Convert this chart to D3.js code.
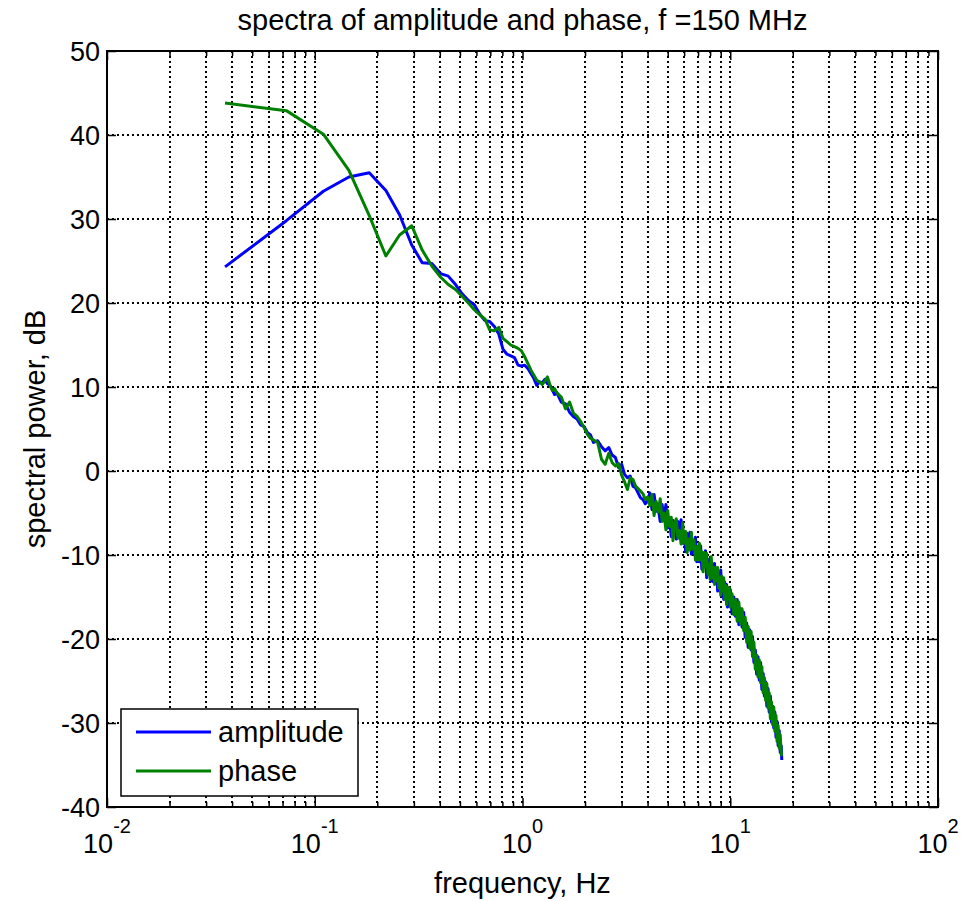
<!DOCTYPE html>
<html><head><meta charset="utf-8">
<script src="https://cdn.jsdelivr.net/npm/d3@7/dist/d3.min.js"></script>
<style>
body{margin:0;background:#fff;}
text{font-family:"Liberation Sans",Arial,Helvetica,sans-serif;fill:#000;}
</style>
</head><body>
<svg id="chart" width="963" height="901"></svg>
<script>
// ---------------- data ----------------
const titleText = "spectra of amplitude and phase, f =150 MHz";
const xLabel = "frequency, Hz";
const yLabel = "spectral power, dB";
const seriesNames = ["amplitude", "phase"];
const seriesColors = ["#0000ff", "#008000"];

const freq = [
  0.037,0.073,0.110,0.146,0.183,0.220,0.256,0.293,0.329,0.366,
  0.403,0.439,0.476,0.512,0.549,0.586,0.622,0.659,0.695,0.732,
  0.769,0.805,0.842,0.878,0.915,0.952,0.988,1.025,1.061,1.098,
  1.135,1.171,1.208,1.244,1.281,1.318,1.354,1.391,1.427,1.464,
  1.537,1.610,1.684,1.757,1.830,1.903,1.976,2.050,2.123,2.196,
  2.3,2.4,2.5,2.6,2.7,2.8,2.9,3.0,3.1,3.2,3.3,3.4,3.5,3.6,3.7,3.8,3.9,4.0,
  4.1,4.2,4.3,4.4,4.5,4.6,4.7,4.8,4.9,5.0,
  5.1,5.2,5.3,5.4,5.5,5.6,5.7,5.8,5.9,6.0,
  6.1,6.2,6.3,6.4,6.5,6.6,6.7,6.8,6.9,7.0,
  7.1,7.2,7.3,7.4,7.5,7.6,7.7,7.8,7.9,8.0,
  8.1,8.2,8.3,8.4,8.5,8.6,8.7,8.8,8.9,9.0,
  9.1,9.2,9.3,9.4,9.5,9.6,9.7,9.8,9.9,10.0,
  10.2,10.4,10.6,10.8,11.0,11.2,11.4,11.6,11.8,12.0,
  12.2,12.4,12.6,12.8,13.0,13.2,13.4,13.6,13.8,14.0,
  14.2,14.4,14.6,14.8,15.0,15.2,15.4,15.6,15.8,16.0,
  16.2,16.4,16.6,16.8,17.0,17.2,17.4,17.6,17.7
];

const amplitude = [
  24.3,29.8,33.3,35.0,35.5,33.4,30.5,26.9,24.8,24.7,
  23.5,23.2,22.2,21.1,20.3,19.8,18.7,17.9,17.8,17.2,
  16.3,14.5,13.9,13.7,13.5,12.6,12.5,12.6,12.2,11.6,
  11.0,10.2,10.6,10.5,10.9,10.4,10.2,9.7,9.1,9.3,
  8.2,8.0,7.0,6.5,6.2,5.5,5.3,4.6,4.3,3.4,
  3.6,2.9,2.4,2.8,1.9,1.6,0.4,0.8,-0.4,-0.8,-0.6,-1.8,-2.0,-2.6,-3.2,-3.4,-3.9,-3.6,
  -2.6,-4.6,-2.8,-4.8,-4.3,-6.0,-4.0,-5.7,-4.0,-6.8,
  -5.7,-7.8,-5.9,-6.7,-8.1,-6.0,-8.0,-5.8,-8.6,-7.4,
  -9.6,-7.4,-8.8,-7.3,-9.9,-8.6,-9.7,-7.9,-10.8,-9.0,
  -10.8,-8.9,-11.7,-9.9,-11.1,-9.5,-12.7,-10.5,-12.2,-10.5,
  -13.1,-11.6,-13.2,-11.0,-13.3,-12.0,-14.3,-12.1,-13.7,-11.8,
  -14.7,-13.3,-15.3,-13.2,-15.1,-13.5,-16.2,-14.3,-16.0,-14.1,
  -17.0,-15.0,-17.3,-15.3,-18.3,-16.4,-18.6,-16.8,-19.8,-18.1,
  -21.0,-18.9,-21.3,-19.7,-22.8,-21.3,-24.2,-22.1,-24.9,-22.8,
  -26.0,-24.1,-26.8,-25.1,-28.0,-25.9,-28.7,-26.8,-29.9,-28.0,
  -30.6,-28.7,-31.7,-29.8,-32.7,-30.9,-33.5,-32.7,-34.4
];

const phase = [
  43.8,42.9,40.1,35.8,30.4,25.6,28.1,29.2,26.3,24.4,
  23.1,22.2,21.6,20.8,20.0,19.2,18.6,18.1,16.8,16.7,
  17.1,15.8,15.4,15.0,14.8,14.6,14.3,13.6,12.8,12.0,
  11.4,10.8,10.6,10.3,10.7,11.2,10.3,9.6,9.8,9.3,
  8.8,7.4,8.2,6.9,6.5,5.9,5.2,4.4,3.9,3.7,
  3.4,1.4,0.8,2.1,1.0,0.6,0.9,-0.5,-1.3,-2.2,-0.8,-1.0,-1.8,-2.1,-2.4,-2.7,-3.4,-3.1,
  -4.1,-2.8,-5.3,-3.6,-4.9,-3.3,-6.0,-5.0,-7.0,-4.7,
  -6.6,-5.5,-8.3,-6.2,-5.7,-8.0,-7.1,-8.7,-6.2,-8.6,
  -7.2,-9.7,-8.1,-9.4,-7.3,-9.3,-8.2,-10.6,-9.0,-10.6,
  -8.6,-10.6,-9.6,-12.0,-9.7,-11.4,-9.8,-12.3,-11.1,-12.9,
  -10.2,-12.7,-11.5,-13.5,-11.5,-13.1,-11.5,-13.9,-12.7,-14.8,
  -12.5,-14.3,-12.7,-15.2,-13.6,-15.9,-13.8,-15.2,-13.9,-16.2,
  -14.6,-17.1,-15.3,-17.9,-15.6,-18.2,-16.4,-19.0,-17.4,-20.4,
  -18.5,-21.1,-19.1,-22.1,-20.4,-23.6,-21.9,-24.5,-22.5,-25.2,
  -23.3,-26.4,-24.6,-27.3,-25.3,-28.2,-26.4,-29.5,-27.5,-30.2,
  -28.1,-31.0,-29.1,-32.2,-30.3,-33.0,-31.4,-33.8,-33.5
];

const yTicks = [-40,-30,-20,-10,0,10,20,30,40,50];
const xDecades = [0.01,0.1,1,10,100];
const xTickExponents = ["-2","-1","0","1","2"];

// ---------------- layout ----------------
const L = 107, R = 938, T = 51, B = 807;
const FS_TICK = 27, FS_TEXT = 29;

const svg = d3.select("#chart");
const x = d3.scaleLog().domain([0.01,100]).range([L,R]);
const y = d3.scaleLinear().domain([-40,50]).range([B,T]);

// minor positions (2..9 within each decade)
const minorVals = [];
xDecades.slice(0,-1).forEach(d => { for (let m=2;m<=9;m++) minorVals.push(d*m); });
const allVLines = xDecades.concat(minorVals);

// grid
const grid = svg.append("g").attr("stroke","#000").attr("stroke-width",2)
  .attr("stroke-dasharray","2,3").attr("fill","none").attr("shape-rendering","crispEdges");
grid.selectAll("line.v").data(allVLines.filter(v => v>0.01 && v<100)).enter().append("line")
  .attr("x1",d=>Math.round(x(d))).attr("x2",d=>Math.round(x(d)))
  .attr("y1",T).attr("y2",B);
grid.selectAll("line.h").data(yTicks.filter(v=>v>-40 && v<50)).enter().append("line")
  .attr("x1",L).attr("x2",R)
  .attr("y1",d=>Math.round(y(d))).attr("y2",d=>Math.round(y(d)));

// axes ticks via d3 axes (inside ticks, no labels)
function noLbl(a){ return a.tickFormat(()=>""); }
function addAxis(axis, tx, ty){
  svg.append("g").attr("transform",`translate(${tx},${ty})`).call(noLbl(axis))
    .call(g=>g.select(".domain").remove());
}
addAxis(d3.axisBottom(x).tickValues(xDecades).tickSizeInner(-9).tickSizeOuter(0),0,B);
addAxis(d3.axisBottom(x).tickValues(minorVals).tickSizeInner(-5).tickSizeOuter(0),0,B);
addAxis(d3.axisTop(x).tickValues(xDecades).tickSizeInner(-9).tickSizeOuter(0),0,T);
addAxis(d3.axisTop(x).tickValues(minorVals).tickSizeInner(-5).tickSizeOuter(0),0,T);
addAxis(d3.axisLeft(y).tickValues(yTicks).tickSizeInner(-9).tickSizeOuter(0),L,0);
addAxis(d3.axisRight(y).tickValues(yTicks).tickSizeInner(-9).tickSizeOuter(0),R,0);
svg.selectAll(".tick line").attr("stroke","#000").attr("stroke-width",1.5);

// y tick labels
svg.append("g").selectAll("text").data(yTicks).enter().append("text")
  .attr("x",L-7).attr("y",d=>y(d)).attr("dy","0.36em")
  .attr("text-anchor","end").style("font-size",FS_TICK+"px").text(d=>d);

// x tick labels with superscripts
xDecades.forEach((d,i)=>{
  const t = svg.append("text").attr("x",x(d)).attr("y",853)
    .attr("text-anchor","middle").style("font-size",FS_TICK+"px");
  t.append("tspan").text("10");
  t.append("tspan").attr("dy",-20).style("font-size","20px").text(xTickExponents[i]);
});

// series lines
const line = d3.line().x((d,i)=>x(freq[i])).y(d=>y(d));
[amplitude, phase].forEach((s,j)=>{
  svg.append("path").datum(s).attr("d",line).attr("fill","none")
    .attr("stroke",seriesColors[j]).attr("stroke-width",3)
    .attr("stroke-linejoin","round");
});

// box
svg.append("rect").attr("x",L).attr("y",T).attr("width",R-L).attr("height",B-T)
  .attr("fill","none").attr("stroke","#000").attr("stroke-width",2);

// title & labels
svg.append("text").attr("x",(L+R)/2).attr("y",30).attr("text-anchor","middle")
  .style("font-size",FS_TEXT+"px").text(titleText);
svg.append("text").attr("x",(L+R)/2).attr("y",893).attr("text-anchor","middle")
  .style("font-size",FS_TEXT+"px").text(xLabel);
svg.append("text").attr("transform",`translate(45,${(T+B)/2}) rotate(-90)`)
  .attr("text-anchor","middle").style("font-size",FS_TEXT+"px").text(yLabel);

// legend
const lg = svg.append("g");
lg.append("rect").attr("x",121).attr("y",709).attr("width",237).attr("height",87)
  .attr("fill","#fff").attr("stroke","#000").attr("stroke-width",1.5);
seriesNames.forEach((n,i)=>{
  const yy = i===0 ? 732 : 771;
  lg.append("line").attr("x1",136).attr("x2",211).attr("y1",yy).attr("y2",yy)
    .attr("stroke",seriesColors[i]).attr("stroke-width",3);
  lg.append("text").attr("x",218).attr("y",yy).attr("dy","0.36em")
    .style("font-size",FS_TEXT+"px").text(n);
});
</script>
</body></html>
